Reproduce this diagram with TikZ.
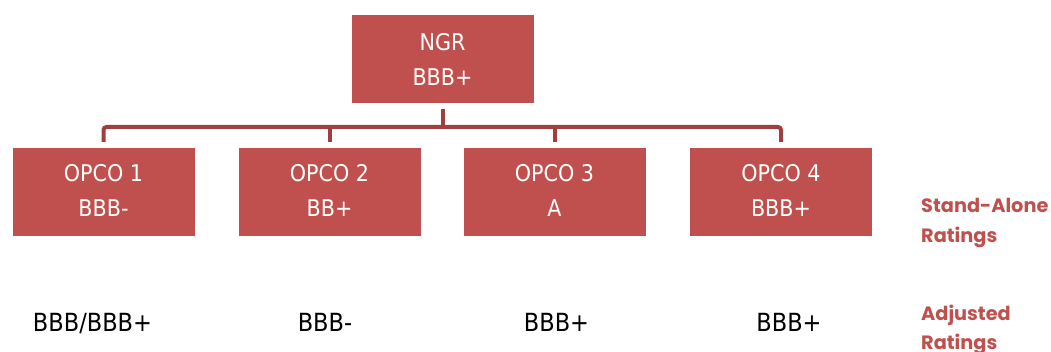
\documentclass[tikz,border=0pt]{standalone}
\usepackage{fontspec}
\newfontfamily\boxfont{DejaVu Sans Condensed}
\newfontfamily\labfont{Poppins}
\definecolor{boxred}{HTML}{C0504D}
\definecolor{connred}{HTML}{A0403E}
\tikzset{
  orgbox/.style={draw=boxred, fill=boxred, minimum width=181pt, minimum height=87pt, inner sep=0pt},
  boxtxt/.style={anchor=base, text=white, font=\boxfont\fontsize{23}{28}\selectfont, inner sep=0pt},
  adjtxt/.style={anchor=base, text=black, font=\boxfont\fontsize{25}{30}\selectfont, inner sep=0pt},
  sidetxt/.style={anchor=base west, text=boxred, font=\labfont\bfseries\fontsize{19.3}{24}\selectfont, inner sep=0pt},
  conn/.style={draw=connred, line width=4pt, rounded corners=3pt}
}
\begin{document}
\begin{tikzpicture}[x=1pt,y=-1pt]
\useasboundingbox (0,0) rectangle (1051,352);
% boxes
\node[orgbox] (ngr) at (442.5,59) {};
\node[orgbox] (o1) at (103.5,191.5) {};
\node[orgbox] (o2) at (329.5,191.5) {};
\node[orgbox] (o3) at (554.5,191.5) {};
\node[orgbox] (o4) at (781,191.5) {};
% box texts
\node[boxtxt] (ngr1) at ([yshift=-35pt]ngr.north) {NGR};
\node[boxtxt] (ngr2) at ([yshift=-70pt]ngr.north) {BBB+};
\node[boxtxt] (o1a) at ([yshift=-34pt]o1.north) {OPCO 1};
\node[boxtxt] (o1b) at ([yshift=-69pt]o1.north) {BBB-};
\node[boxtxt] (o2a) at ([yshift=-34pt]o2.north) {OPCO 2};
\node[boxtxt] (o2b) at ([yshift=-69pt]o2.north) {BB+};
\node[boxtxt] (o3a) at ([yshift=-34pt]o3.north) {OPCO 3};
\node[boxtxt] (o3b) at ([yshift=-69pt]o3.north) {A};
\node[boxtxt] (o4a) at ([yshift=-34pt]o4.north) {OPCO 4};
\node[boxtxt] (o4b) at ([yshift=-69pt]o4.north) {BBB+};
% connectors
\coordinate (bus) at (442.5,127);
\draw[conn] ([yshift=6pt]o1.north) |- (bus) -| ([yshift=6pt]o4.north);
\draw[conn] ([yshift=-6pt]ngr.south) -- (bus);
\draw[conn] ([yshift=6pt]o2.north) -- (o2.north |- bus);
\draw[conn] ([yshift=6pt]o3.north) -- (o3.north |- bus);
% adjusted ratings
\node[adjtxt] (a1) at (92.5,331) {BBB/BBB+};
\node[adjtxt] (a2) at (325,331) {BBB-};
\node[adjtxt] (a3) at (556.5,331) {BBB+};
\node[adjtxt] (a4) at (789,331) {BBB+};
% side labels
\node[sidetxt] (s1) at (921,213) {Stand-Alone};
\node[sidetxt] (s2) at (921,243) {Ratings};
\node[sidetxt] (s3) at (921,320) {Adjusted};
\node[sidetxt] (s4) at (921,349) {Ratings};
\end{tikzpicture}
\end{document}
